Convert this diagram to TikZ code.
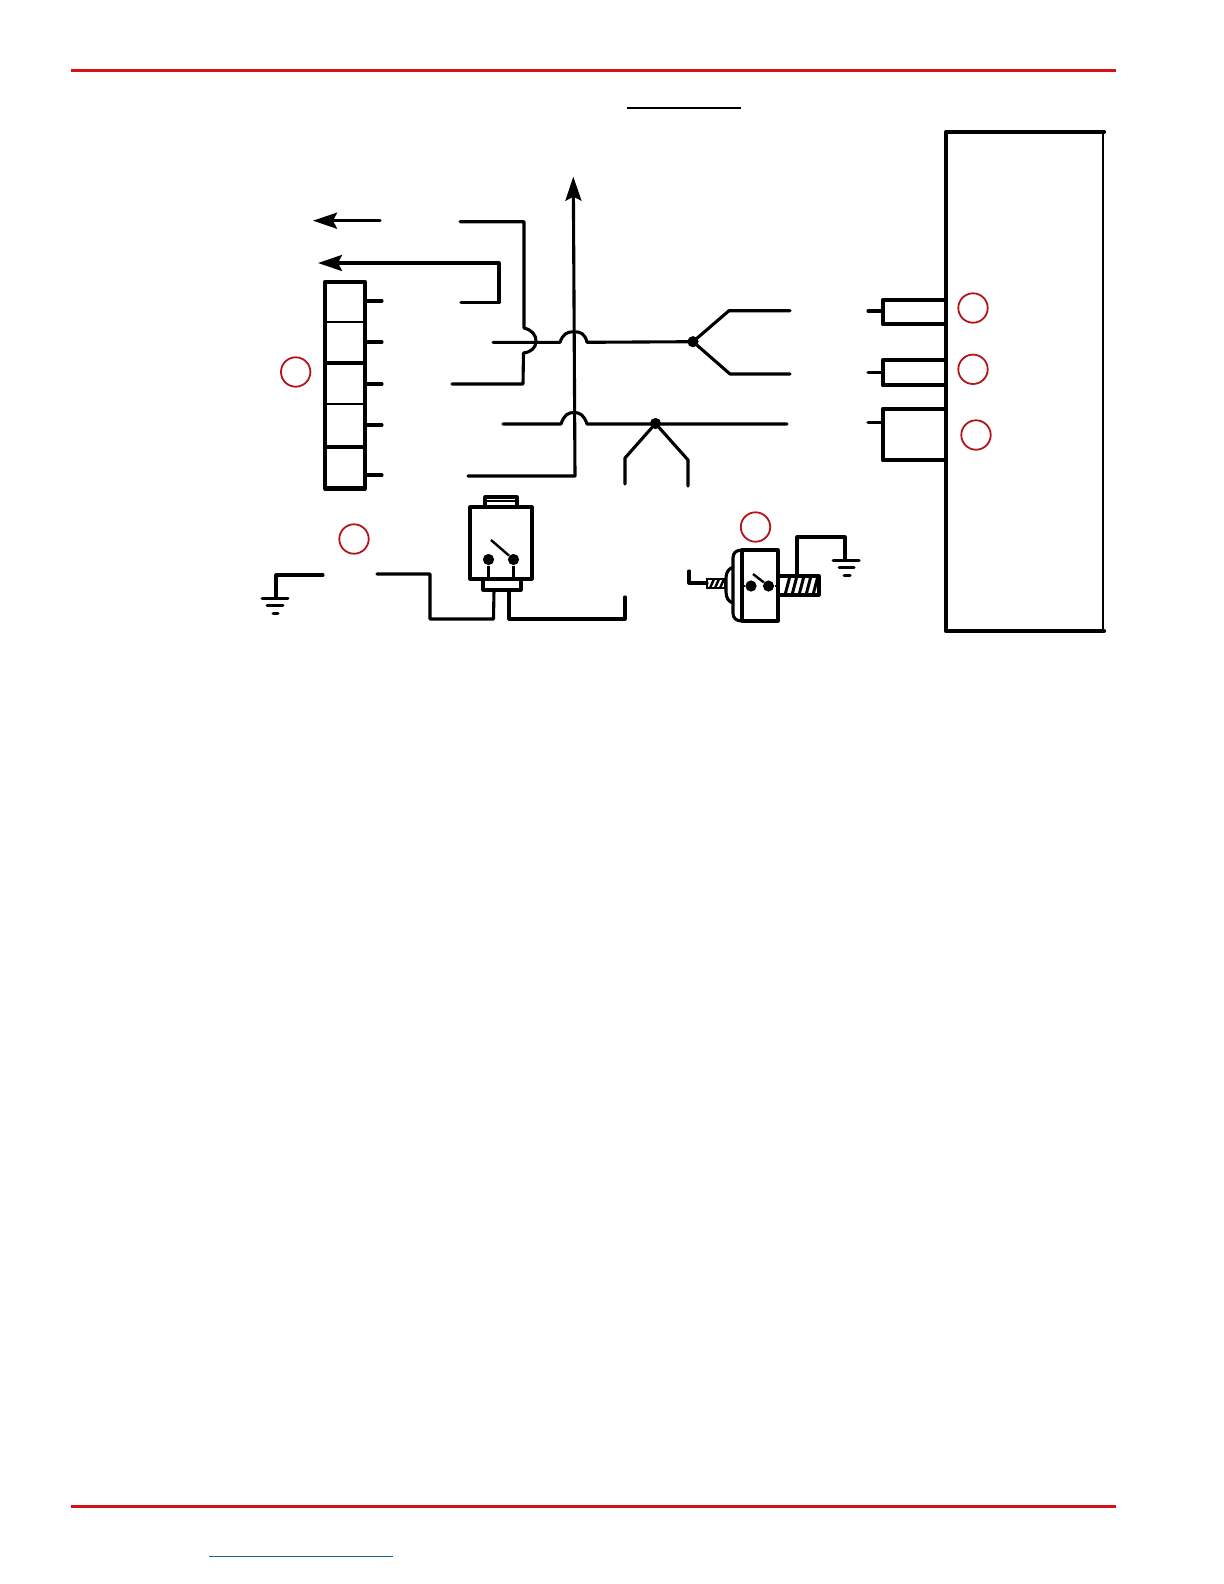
\documentclass[tikz,border=0pt]{standalone}
\usetikzlibrary{arrows.meta}
\definecolor{rulered}{HTML}{D81018}
\definecolor{callred}{HTML}{B41418}
\definecolor{linkblue}{HTML}{1464A0}
\tikzset{
  wire/.style={line width=1.55bp,line join=round,line cap=round},
  heavy/.style={line width=2.1bp,line join=round,line cap=round},
  thin wire/.style={line width=1.2bp,line join=round},
  arrowwire/.style={wire,-{Stealth[length=12bp,width=8bp,inset=2bp]}},
  callout/.style={circle,draw=callred,line width=.9bp,minimum size=14.7bp,inner sep=0pt},
  jdot/.style={circle,fill=black,minimum size=5.6bp,inner sep=0pt},
  rulerline/.style={rulered,line width=1.3bp},
  gbar/.style={line width=1.5bp,line cap=round}
}
\begin{document}
\begin{tikzpicture}[x=.5bp,y=-.5bp]
\useasboundingbox (0,0) rectangle (1224,1584);
% page rules
\coordinate (rtl) at (71,70.7); \coordinate (rtr) at (1116,70.7);
\coordinate (rbl) at (71,1506.7); \coordinate (rbr) at (1116,1506.7);
\coordinate (ul) at (627,108); \coordinate (ur) at (741,108);
\coordinate (bl) at (209,1556.3); \coordinate (br) at (393,1556.3);
\draw[rulerline] (rtl) -- (rtr);
\draw[rulerline] (rbl) -- (rbr);
\draw[line width=.6bp] (ul) -- (ur);
\draw[linkblue,line width=.7bp] (bl) -- (br);
% large module
\coordinate (mtl) at (946,131.7); \coordinate (mtr) at (1104,131.7);
\coordinate (mbl) at (946,631); \coordinate (mbr) at (1104,631);
\draw[heavy] (mtr) -- (mtl) -- (mbl) -- (mbr);
\draw[thin wire] (1103,131.7) -- (1103,631);
% module connectors
\foreach \n/\t/\b/\s in {a/300/324.3/311,b/360/385.3/372.3,c/408.7/460.3/422.3}{
  \coordinate (\n1) at (946,\t); \coordinate (\n2) at (883,\t);
  \coordinate (\n3) at (883,\b); \coordinate (\n4) at (946,\b);
  \coordinate (\n5) at (883,\s); \coordinate (\n6) at (868,\s);
  \draw[heavy] (\n1) -- (\n2) -- (\n3) -- (\n4);
  \draw[wire] (\n5) -- (\n6);
}
% callouts
\node[callout] (c1) at (295.7,372) {};
\node[callout] (c2) at (354,539) {};
\node[callout] (c3) at (755.5,527) {};
\node[callout] (c4) at (973,308) {};
\node[callout] (c5) at (973,369.3) {};
\node[callout] (c6) at (976,435) {};
% terminal block
\coordinate (tl) at (325,282); \coordinate (tr) at (365,282);
\coordinate (dl) at (325,488.5); \coordinate (dr) at (365,488.5);
\draw[heavy] (tl) rectangle (dr);
\foreach \y/\w in {322/1.3,363/1.6,404/1.3,447/1.6}{
  \draw[line width=\w bp] (325,\y) -- (365,\y);
}
\foreach \y in {301,342,384,425,475}{
  \draw[wire] (365,\y) -- (382,\y);
}
% arrows
\coordinate (a1s) at (380,220.7); \coordinate (a1e) at (313,220.7);
\draw[arrowwire] (a1s) -- (a1e);
\coordinate (a2a) at (461,302.7); \coordinate (a2b) at (499,302.7);
\coordinate (a2c) at (499,263); \coordinate (a2e) at (318,263);
\draw[arrowwire] (a2a) -- (a2b) -- (a2c) -- (a2e);
% bulged wire
\coordinate (w1) at (460,221.7); \coordinate (w2) at (524,221.7);
\coordinate (w3) at (524,328); \coordinate (w4) at (523.5,353);
\coordinate (w5) at (523,384); \coordinate (w6) at (452,384);
\draw[wire] (w1) -- (w2) -- (w3) .. controls (532,330) and (536,335) .. (536,341)
  .. controls (536,348) and (531,352) .. (w4) -- (w5) -- (w6);
% riser with arrow
\coordinate (r1) at (468,476); \coordinate (r2) at (575,476); \coordinate (r3) at (573.3,176.7);
\draw[arrowwire] (r1) -- (r2) -- (r3);
% upper bus
\coordinate (j1) at (693,341.7);
\coordinate (u1) at (493,342.3); \coordinate (u2) at (560,342.3); \coordinate (u3) at (587,342.3);
\coordinate (u4) at (729,310.7); \coordinate (u5) at (790,310.7);
\coordinate (u6) at (730,374); \coordinate (u7) at (790,374);
\draw[wire] (u1) -- (u2) .. controls (563,334) and (567,331.7) .. (574,331.7)
  .. controls (581,331.7) and (585,334) .. (u3) -- (j1);
\draw[wire] (u5) -- (u4) -- (j1) -- (u6) -- (u7);
\node[jdot] (jd1) at (j1) {};
% lower bus
\coordinate (j2) at (655.5,423.5);
\coordinate (l1) at (503,424); \coordinate (l2) at (561,424); \coordinate (l3) at (587,424);
\coordinate (l4) at (787,424);
\coordinate (l5) at (625,458); \coordinate (l6) at (625,484);
\coordinate (l7) at (688,460); \coordinate (l8) at (688,486);
\draw[wire] (l1) -- (l2) .. controls (564,415) and (568,412.5) .. (574,412.5)
  .. controls (580,412.5) and (584,415) .. (l3) -- (l4);
\draw[wire] (l6) -- (l5) -- (j2) -- (l7) -- (l8);
\node[jdot] (jd2) at (j2) {};
% ground left
\coordinate (g1) at (323,575); \coordinate (g2) at (276,575); \coordinate (g3) at (276,598);
\draw[wire] (g1) -- (g2) -- (g3);
\draw[gbar] (262,598) -- (288,598);
\draw[gbar] (267,605) -- (283,605);
\draw[gbar] (273,613) -- (278,613);
% relay wiring
\coordinate (s1) at (377,574); \coordinate (s2) at (430,574); \coordinate (s3) at (430,619);
\coordinate (s4) at (493.5,619); \coordinate (s5) at (494,590);
\coordinate (s6) at (509,590); \coordinate (s7) at (509,619);
\coordinate (s8) at (625,619); \coordinate (s9) at (625,597);
\draw[wire] (s1) -- (s2) -- (s3) -- (s4) -- (s5);
\draw[wire] (s6) -- (s7) -- (s8) -- (s9);
% pressure switch A
\draw[wire] (470,507) rectangle (532,579);
\draw[wire] (483,579) rectangle (521,590);
\draw[wire] (485,507) -- (485,497) -- (517,497) -- (517,507);
\draw[line width=.9bp] (485,501) -- (517,501);
\node[jdot] (d1) at (488.5,559.5) {};
\node[jdot] (d2) at (513.5,559.5) {};
\draw[thin wire] (d1) -- (488.5,579);
\draw[thin wire] (d2) -- (513.5,579);
\coordinate (sa) at (491,540);
\draw[thin wire] (sa) -- (d2);
% switch B
\draw[wire] (742,550) -- (778,550) -- (778,621) -- (742,621) -- cycle;
\draw[wire] (742,550) .. controls (736,550) and (733,553) .. (733,558) -- (733,613) .. controls (733,618) and (736,621) .. (742,621);
\draw[wire] (733,567) .. controls (728,569) and (726,573) .. (726,578) -- (726,592) .. controls (726,598) and (729,602) .. (733,603);
\draw[line width=1.2bp] (707,579) rectangle (725,588);
\foreach \x in {714,719,724}{\draw[line width=1.2bp] (\x,579) -- (\x-4,588);}
\coordinate (b1) at (689,571); \coordinate (b2) at (689,583); \coordinate (b3) at (707,583);
\draw[wire] (b1) -- (b2) -- (b3);
\node[jdot] (d3) at (751,586) {};
\node[jdot] (d4) at (768.5,586) {};
\draw[thin wire] (742,586) -- (d3);
\draw[thin wire] (d4) -- (778,586);
\coordinate (sb) at (753,574);
\draw[thin wire] (sb) -- (d4);
\draw[wire] (778,576) -- (819,576) -- (819,595) -- (778,595);
\foreach \x in {790,797,804,811,818}{\draw[line width=1.5bp] (\x,576) -- (\x-5,595);}
% ground right
\coordinate (h1) at (797,576); \coordinate (h2) at (797,537); \coordinate (h3) at (845,537); \coordinate (h4) at (845,560);
\draw[wire] (h1) -- (h2) -- (h3) -- (h4);
\draw[gbar] (833,560) -- (859,560);
\draw[gbar] (839,567) -- (854,567);
\draw[gbar] (844,575) -- (850,575);
\end{tikzpicture}
\end{document}
